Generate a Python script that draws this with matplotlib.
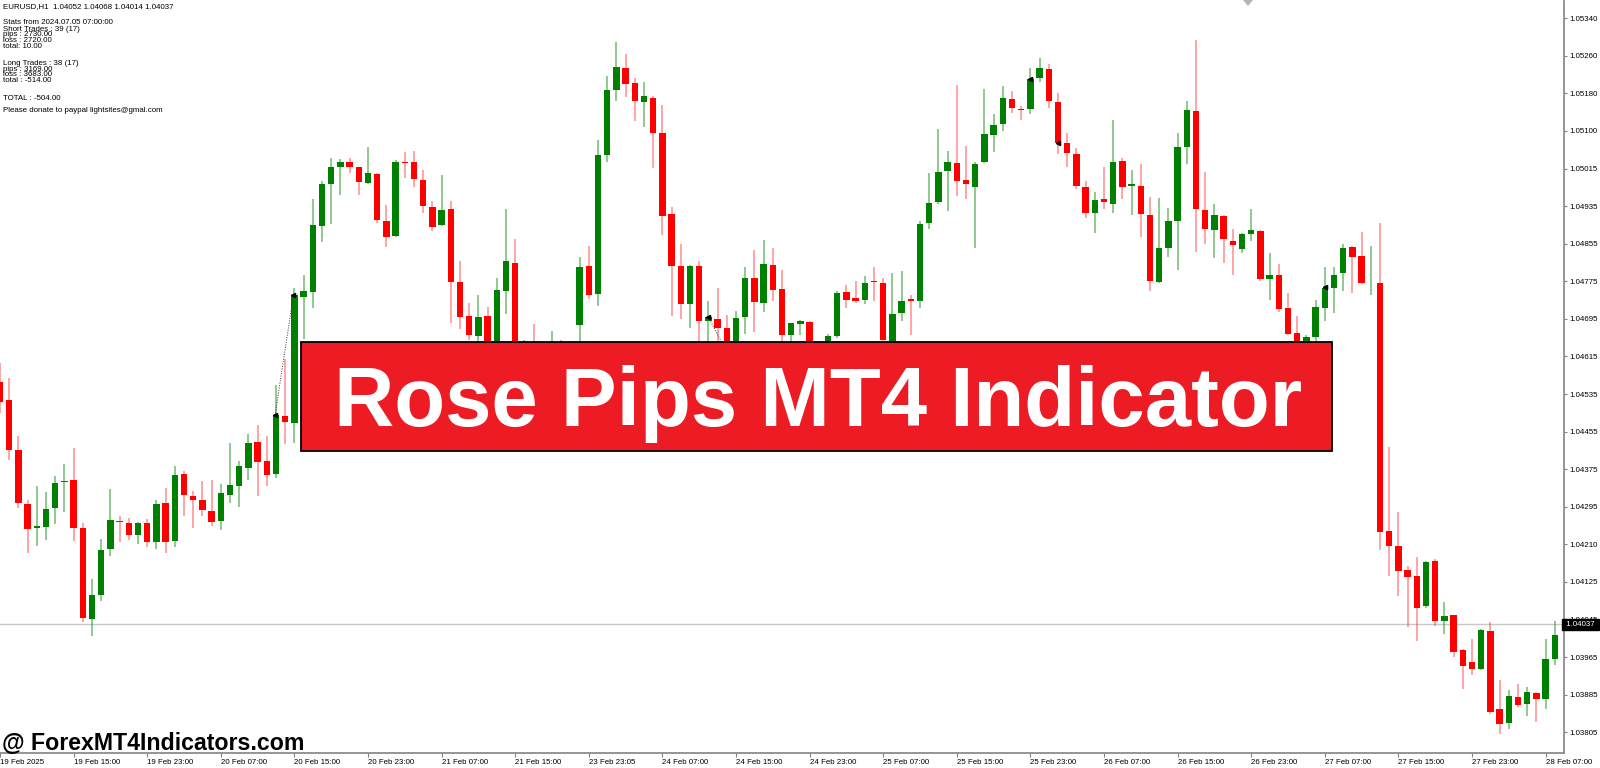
"""EURUSD H1 candlestick chart with the Rose Pips banner, MT4 look."""
import matplotlib
matplotlib.use("Agg")
import matplotlib.pyplot as plt
import matplotlib.transforms as mtransforms
from matplotlib.patches import Rectangle, Polygon
import numpy as np

plt.rcParams["font.family"] = ["Liberation Sans", "DejaVu Sans"]

# One candle per hour, starting 19 Feb 07:00 (index 0)
OPEN = [
    1.04559, 1.04520, 1.04411, 1.04296, 1.04244, 1.04247, 1.04287, 1.04342, 1.04348, 1.04243,
    1.04048, 1.04101, 1.04199, 1.04260, 1.04255, 1.04230, 1.04255, 1.04214, 1.04298, 1.04217,
    1.04361, 1.04313, 1.04305, 1.04281, 1.04259, 1.04316, 1.04335, 1.04374, 1.04430, 1.04388,
    1.04361, 1.04485, 1.04470, 1.04741, 1.04751, 1.04893, 1.04984, 1.05020, 1.05030, 1.05020,
    1.04986, 1.05005, 1.04905, 1.04872, 1.05030, 1.05031, 1.04992, 1.04935, 1.04896, 1.04930,
    1.04773, 1.04700, 1.04657, 1.04700, 1.04590, 1.04754, 1.04813, 1.04560, 1.04620, 1.04580,
    1.04610, 1.04630, 1.04600, 1.04681, 1.04807, 1.04747, 1.05045, 1.05185, 1.05232, 1.05200,
    1.05159, 1.05169, 1.05094, 1.04919, 1.04807, 1.04726, 1.04807, 1.04690, 1.04694, 1.04673,
    1.04580, 1.04697, 1.04781, 1.04727, 1.04809, 1.04758, 1.04658, 1.04683, 1.04686, 1.04590,
    1.04600, 1.04656, 1.04752, 1.04738, 1.04735, 1.04776, 1.04771, 1.04600, 1.04707, 1.04736,
    1.04733, 1.04900, 1.04944, 1.05012, 1.05029, 1.04993, 1.04978, 1.05030, 1.05090, 1.05113,
    1.05166, 1.05145, 1.05145, 1.05212, 1.05231, 1.05159, 1.05071, 1.05048, 1.04977, 1.04922,
    1.04951, 1.04941, 1.05032, 1.04980, 1.04980, 1.04917, 1.04772, 1.04845, 1.04903, 1.05064,
    1.05141, 1.04928, 1.04885, 1.04915, 1.04862, 1.04843, 1.04876, 1.04883, 1.04779, 1.04789,
    1.04718, 1.04664, 1.04610, 1.04655, 1.04716, 1.04759, 1.04792, 1.04848, 1.04828, 1.04774,
    1.04771, 1.04238, 1.04205, 1.04153, 1.04140, 1.04077, 1.04173, 1.04044, 1.04057, 1.03981,
    1.03956, 1.03940, 1.04023, 1.03854, 1.03825, 1.03881, 1.03865, 1.03889, 1.03876, 1.03962,
]
HIGH = [
    1.04599, 1.04567, 1.04441, 1.04305, 1.04335, 1.04321, 1.04356, 1.04382, 1.04416, 1.04255,
    1.04134, 1.04220, 1.04328, 1.04269, 1.04265, 1.04258, 1.04264, 1.04305, 1.04330, 1.04378,
    1.04366, 1.04323, 1.04346, 1.04348, 1.04339, 1.04427, 1.04389, 1.04447, 1.04465, 1.04442,
    1.04552, 1.04607, 1.04759, 1.04788, 1.04951, 1.04991, 1.05040, 1.05038, 1.05040, 1.05021,
    1.05063, 1.05007, 1.04938, 1.05035, 1.05052, 1.05054, 1.05014, 1.04946, 1.05003, 1.04947,
    1.04817, 1.04727, 1.04744, 1.04719, 1.04781, 1.04929, 1.04865, 1.04648, 1.04682, 1.04640,
    1.04668, 1.04648, 1.04645, 1.04826, 1.04850, 1.05078, 1.05215, 1.05288, 1.05263, 1.05212,
    1.05203, 1.05172, 1.05153, 1.04934, 1.04854, 1.04810, 1.04818, 1.04731, 1.04759, 1.04702,
    1.04711, 1.04805, 1.04842, 1.04863, 1.04845, 1.04799, 1.04685, 1.04691, 1.04688, 1.04645,
    1.04661, 1.04754, 1.04767, 1.04776, 1.04786, 1.04806, 1.04781, 1.04792, 1.04796, 1.04746,
    1.04903, 1.05007, 1.05102, 1.05055, 1.05197, 1.05066, 1.05030, 1.05188, 1.05133, 1.05195,
    1.05183, 1.05152, 1.05233, 1.05255, 1.05242, 1.05179, 1.05093, 1.05060, 1.04989, 1.04967,
    1.05021, 1.05121, 1.05039, 1.05014, 1.05027, 1.04955, 1.04953, 1.04931, 1.05094, 1.05161,
    1.05293, 1.05010, 1.04941, 1.04917, 1.04886, 1.04878, 1.04929, 1.04885, 1.04836, 1.04811,
    1.04749, 1.04700, 1.04659, 1.04734, 1.04805, 1.04805, 1.04854, 1.04851, 1.04880, 1.04850,
    1.04900, 1.04419, 1.04278, 1.04162, 1.04182, 1.04173, 1.04177, 1.04084, 1.04057, 1.03985,
    1.04006, 1.04028, 1.04042, 1.03917, 1.03895, 1.03908, 1.03902, 1.03892, 1.04006, 1.04044,
]
LOW = [
    1.04491, 1.04391, 1.04287, 1.04190, 1.04206, 1.04219, 1.04253, 1.04278, 1.04217, 1.04042,
    1.04011, 1.04088, 1.04184, 1.04213, 1.04219, 1.04210, 1.04203, 1.04199, 1.04190, 1.04204,
    1.04270, 1.04243, 1.04270, 1.04249, 1.04239, 1.04298, 1.04290, 1.04348, 1.04312, 1.04335,
    1.04352, 1.04424, 1.04426, 1.04650, 1.04716, 1.04859, 1.04897, 1.04959, 1.05008, 1.04960,
    1.04984, 1.04899, 1.04849, 1.04869, 1.04997, 1.04978, 1.04922, 1.04882, 1.04893, 1.04684,
    1.04671, 1.04648, 1.04634, 1.04580, 1.04570, 1.04704, 1.04540, 1.04540, 1.04560, 1.04560,
    1.04580, 1.04580, 1.04590, 1.04645, 1.04736, 1.04721, 1.05030, 1.05163, 1.05170, 1.05118,
    1.05107, 1.05018, 1.04873, 1.04700, 1.04693, 1.04673, 1.04630, 1.04610, 1.04600, 1.04560,
    1.04560, 1.04661, 1.04666, 1.04709, 1.04733, 1.04647, 1.04630, 1.04659, 1.04570, 1.04575,
    1.04590, 1.04652, 1.04716, 1.04728, 1.04726, 1.04731, 1.04645, 1.04580, 1.04690, 1.04659,
    1.04717, 1.04887, 1.04941, 1.04925, 1.04957, 1.04951, 1.04846, 1.05028, 1.05052, 1.05097,
    1.05136, 1.05122, 1.05133, 1.05202, 1.05147, 1.05048, 1.05021, 1.04972, 1.04910, 1.04878,
    1.04929, 1.04921, 1.04951, 1.04917, 1.04870, 1.04754, 1.04770, 1.04826, 1.04799, 1.05026,
    1.04838, 1.04854, 1.04824, 1.04813, 1.04789, 1.04836, 1.04862, 1.04776, 1.04734, 1.04709,
    1.04659, 1.04580, 1.04590, 1.04645, 1.04688, 1.04707, 1.04754, 1.04749, 1.04769, 1.04746,
    1.04196, 1.04141, 1.04097, 1.04032, 1.04002, 1.04073, 1.04034, 1.04017, 1.03967, 1.03897,
    1.03929, 1.03939, 1.03845, 1.03802, 1.03811, 1.03859, 1.03840, 1.03828, 1.03854, 1.03950,
]
CLOSE = [
    1.04516, 1.04411, 1.04298, 1.04242, 1.04249, 1.04285, 1.04341, 1.04346, 1.04243, 1.04050,
    1.04101, 1.04197, 1.04262, 1.04257, 1.04230, 1.04255, 1.04213, 1.04295, 1.04215, 1.04358,
    1.04314, 1.04305, 1.04282, 1.04256, 1.04319, 1.04336, 1.04378, 1.04427, 1.04387, 1.04359,
    1.04487, 1.04473, 1.04745, 1.04754, 1.04896, 1.04984, 1.05021, 1.05030, 1.05020, 1.04987,
    1.05008, 1.04906, 1.04870, 1.05030, 1.05029, 1.04994, 1.04936, 1.04892, 1.04928, 1.04772,
    1.04697, 1.04658, 1.04697, 1.04600, 1.04756, 1.04818, 1.04560, 1.04620, 1.04580, 1.04610,
    1.04630, 1.04600, 1.04640, 1.04806, 1.04744, 1.05045, 1.05185, 1.05235, 1.05198, 1.05161,
    1.05172, 1.05094, 1.04915, 1.04807, 1.04726, 1.04807, 1.04690, 1.04698, 1.04673, 1.04580,
    1.04695, 1.04781, 1.04729, 1.04811, 1.04756, 1.04658, 1.04684, 1.04688, 1.04590, 1.04630,
    1.04657, 1.04749, 1.04734, 1.04733, 1.04771, 1.04773, 1.04649, 1.04705, 1.04733, 1.04733,
    1.04898, 1.04943, 1.05010, 1.05031, 1.04989, 1.04984, 1.05027, 1.05092, 1.05110, 1.05169,
    1.05147, 1.05142, 1.05209, 1.05233, 1.05161, 1.05072, 1.05051, 1.04979, 1.04921, 1.04949,
    1.04944, 1.05030, 1.04977, 1.04983, 1.04919, 1.04774, 1.04847, 1.04903, 1.05063, 1.05142,
    1.04929, 1.04886, 1.04916, 1.04865, 1.04852, 1.04876, 1.04885, 1.04780, 1.04789, 1.04714,
    1.04661, 1.04600, 1.04655, 1.04720, 1.04759, 1.04788, 1.04845, 1.04827, 1.04771, 1.04776,
    1.04235, 1.04205, 1.04151, 1.04138, 1.04073, 1.04171, 1.04044, 1.04054, 1.03978, 1.03947,
    1.03940, 1.04024, 1.03849, 1.03823, 1.03882, 1.03863, 1.03891, 1.03877, 1.03962, 1.04015,
]

XTICK_LABELS = [
    "19 Feb 2025", "19 Feb 15:00", "19 Feb 23:00", "20 Feb 07:00", "20 Feb 15:00",
    "20 Feb 23:00", "21 Feb 07:00", "21 Feb 15:00", "23 Feb 23:05", "24 Feb 07:00",
    "24 Feb 15:00", "24 Feb 23:00", "25 Feb 07:00", "25 Feb 15:00", "25 Feb 23:00",
    "26 Feb 07:00", "26 Feb 15:00", "26 Feb 23:00", "27 Feb 07:00", "27 Feb 15:00",
    "27 Feb 23:00", "28 Feb 07:00",
]
YTICK_LABELS = [
    "1.05340", "1.05260", "1.05180", "1.05100", "1.05015", "1.04935", "1.04855",
    "1.04775", "1.04695", "1.04615", "1.04535", "1.04455", "1.04375", "1.04295",
    "1.04210", "1.04125", "1.04045", "1.03965", "1.03885", "1.03805",
]
LAST_PRICE = 1.04037

# trade arrows drawn by the indicator
TRADE_LINE_X = [29.9, 31.9]
TRADE_LINE_Y = [1.04487, 1.04745]
TRADE_LINE2_X = [77.0, 78.4]
TRADE_LINE2_Y = [1.04697, 1.04645]
ARROW_X = [29.9, 31.9, 77.0, 112.0, 115.0, 144.0]
ARROW_Y = [1.04487, 1.04745, 1.04697, 1.05209, 1.05072, 1.04762]

INFO_LINES = [
    "EURUSD,H1  1.04052 1.04068 1.04014 1.04037",
    "Stats from 2024.07.05 07:00:00",
    "Short Trades : 39 (17)",
    "pips : 2730.00",
    "loss : 2720.00",
    "total: 10.00",
    "Long Trades : 38 (17)",
    "pips : 3169.00",
    "loss : 3683.00",
    "total : -514.00",
    "TOTAL : -504.00",
    "Please donate to paypal lightsites@gmal.com",
]
INFO_Y_PX = [7, 23, 29.5, 35, 40.5, 46, 63.5, 69.5, 75, 80.5, 99, 111]

GREEN = "#008000"
RED = "#FF0000"
W, H = 1600, 768

fig = plt.figure(figsize=(16, 7.68), dpi=100)
fig.patch.set_facecolor("white")
ax = fig.add_axes([0, 1 - 752.7 / H, 1564 / W, (752.7 - 1) / H])

o = np.array(OPEN)
c = np.array(CLOSE)
x = np.arange(len(o))
up = c >= o
colors = np.where(up, GREEN, RED)

ax.axhline(LAST_PRICE, color="#c8c8c8", lw=1.0, zorder=0.5)
ax.vlines(x[up], np.array(LOW)[up], np.array(HIGH)[up], color=GREEN, lw=1.1, alpha=0.55, zorder=1)
ax.vlines(x[~up], np.array(LOW)[~up], np.array(HIGH)[~up], color=RED, lw=1.1, alpha=0.45, zorder=1)
body_h = np.maximum(np.abs(c - o), 0.000018)
ax.bar(x, body_h, bottom=np.minimum(o, c), width=0.68, color=colors, lw=0, zorder=2)

ax.plot(TRADE_LINE_X, TRADE_LINE_Y, ls=(0, (1, 1.5)), color="#333333", lw=0.7, zorder=3)
ax.plot(TRADE_LINE2_X, TRADE_LINE2_Y, ls=(0, (1, 1.5)), color="#333333", lw=0.7, zorder=3)
ax.plot(ARROW_X, ARROW_Y, ls="none", marker="<", ms=3, color="black", zorder=4)

ax.set_xlim(0, 170.0)
ax.set_ylim(1.03761, 1.05377)

ax.set_xticks(np.arange(0, len(o), 8))
ax.set_xticklabels(XTICK_LABELS)
for lbl in ax.get_xticklabels():
    lbl.set_horizontalalignment("left")
ax.tick_params(axis="x", length=3, width=0.8, pad=1.5, labelsize=5.7, colors="#808080", labelcolor="black")

ax.yaxis.tick_right()
ax.set_yticks(np.linspace(1.05340, 1.03805, len(YTICK_LABELS)))
ax.set_yticklabels(YTICK_LABELS)
ax.tick_params(axis="y", length=2.5, width=0.8, pad=1.5, labelsize=5.7, colors="#808080", labelcolor="black")

for side in ("left", "top"):
    ax.spines[side].set_visible(False)
for side in ("right", "bottom"):
    ax.spines[side].set_color("#8c8c8c")
    ax.spines[side].set_linewidth(1.3)

trans = mtransforms.blended_transform_factory(ax.transAxes, ax.transData)
ax.text(1.0, LAST_PRICE, " 1.04037 ", transform=trans, ha="left", va="center",
        color="white", fontsize=5.7, clip_on=False, zorder=10,
        bbox=dict(boxstyle="square,pad=0.25", fc="black", ec="black"))

# info block top-left
for line, ypx in zip(INFO_LINES, INFO_Y_PX):
    fig.text(3 / W, 1 - ypx / H, line, ha="left", va="center", fontsize=5.7, color="black")

# chart shift marker
fig.add_artist(Polygon([[1243 / W, 1.0], [1253 / W, 1.0], [1248 / W, 1 - 6 / H]],
                       closed=True, transform=fig.transFigure, fc="#b4b4b4", ec="none"))

# banner
fig.add_artist(Rectangle((301 / W, 1 - 451 / H), (1332 - 301) / W, (451 - 342) / H,
                         transform=fig.transFigure, fc="#ED1C24", ec="black", lw=1.3, zorder=20))
fig.text(818 / W, 1 - 426 / H, "Rose Pips MT4 Indicator", ha="center", va="baseline",
         color="white", fontsize=60, fontweight="bold", zorder=21)

fig.text(2 / W, 1 - 750 / H, "@ ForexMT4Indicators.com", ha="left", va="baseline",
         fontsize=16.7, fontweight="bold", color="black", zorder=21)

fig.savefig("out.png", dpi=100, facecolor="white")
